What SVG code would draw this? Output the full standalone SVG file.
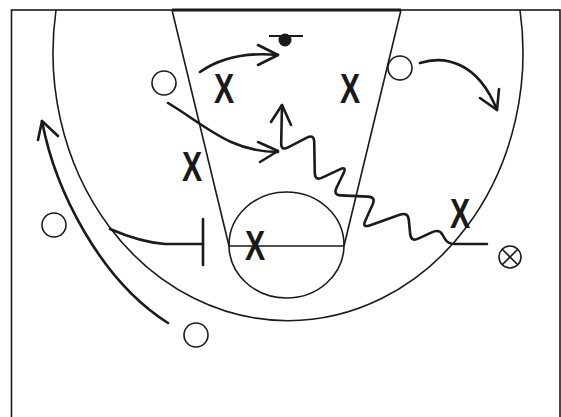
<svg xmlns="http://www.w3.org/2000/svg" width="561" height="417" viewBox="0 0 561 417">
<defs>
<style>
.court{fill:none;stroke:#1a1a1a;stroke-width:1.6}
.mv{fill:none;stroke:#1a1a1a;stroke-width:2.6;stroke-linecap:round;stroke-linejoin:round}
.o{fill:#fff;stroke:#1a1a1a;stroke-width:1.6}
.x{font-family:"Liberation Sans",Arial,sans-serif;font-weight:bold;font-size:42px;fill:#1a1a1a;text-anchor:middle}
</style>
</defs>
<rect width="561" height="417" fill="#fff"/>
<g id="court">
<rect x="11.5" y="10" width="548.5" height="420" class="court" stroke-width="2"/>
<line x1="172" y1="10" x2="401" y2="10" stroke="#1a1a1a" stroke-width="3"/>
<path class="court" d="M56 10 A235 268 0 1 0 520 10"/>
<path class="court" d="M172 10 L229 246 M401 10 L344 246 M229 246 L344 246"/>
<ellipse class="court" cx="286.5" cy="245" rx="57.5" ry="53"/>
</g>
<g id="connectors">
<path class="mv" d="M200 72 C220 58 245 52 278 55"/>
<path class="mv" d="M258 45 L278 55 L258 65"/>
<path class="mv" d="M168 103 C205 125 230 152 278 152"/>
<path class="mv" d="M258 142 L278 151 L260 162"/>
<path class="mv" d="M420 63 C445 55 478 62 497 110"/>
<path class="mv" d="M480 98 L497 110 L499 89"/>
<path class="mv" d="M110 229 Q140 242 165 244 L203 244"/>
<path class="mv" d="M203 219 L203 265" stroke-width="2" stroke-linecap="butt"/>
<path class="mv" d="M168 323 C100 280 55 190 42 121"/>
<path class="mv" d="M38 140 L42 121 L58 136"/>
<path class="mv" d="M487 244 L454 244 Q448 244 444.9 238.9 L442.1 234.1 Q439 229 431.8 232.4 L418.2 238.6 Q411 242 410.2 234 L408.8 220 Q408 212 400.4 214.6 L369.6 225.4 Q362 228 365.3 220.7 L372.7 204.3 Q376 197 368 196.6 L341 195.4 Q333 195 336.5 187.8 L343.5 173.2 Q347 166 339.8 169.4 L322.2 177.6 Q315 181 314.8 173 L314.2 142 Q314 134 306.9 137.7 L288.1 147.3 Q281 151 281.2 143 L282 105"/>
<path class="mv" d="M271 122 L282 105 L291 125"/>
</g>
<g id="ball">
<line x1="269" y1="36" x2="303" y2="36" stroke="#1a1a1a" stroke-width="2"/>
<circle cx="285" cy="40" r="6.5" fill="#1a1a1a"/>
</g>
<g id="o1"><circle class="o" cx="164" cy="83" r="12"/></g>
<g id="o2"><circle class="o" cx="400" cy="68" r="12"/></g>
<g id="o3"><circle class="o" cx="54" cy="225" r="12"/></g>
<g id="o4"><circle class="o" cx="196" cy="335" r="12"/></g>
<g id="o5"><circle class="o" cx="510" cy="257" r="11"/><path d="M502.2 249.2 L517.8 264.8 M517.8 249.2 L502.2 264.8" stroke="#1a1a1a" stroke-width="1.6"/></g>
<g id="x1"><text class="x" transform="translate(224,103) scale(0.72,1)">X</text></g>
<g id="x2"><text class="x" transform="translate(350,103) scale(0.72,1)">X</text></g>
<g id="x3"><text class="x" transform="translate(192,181) scale(0.72,1)">X</text></g>
<g id="x4"><text class="x" transform="translate(255,260) scale(0.72,1)">X</text></g>
<g id="x5"><text class="x" transform="translate(460,228) scale(0.72,1)">X</text></g>
</svg>
